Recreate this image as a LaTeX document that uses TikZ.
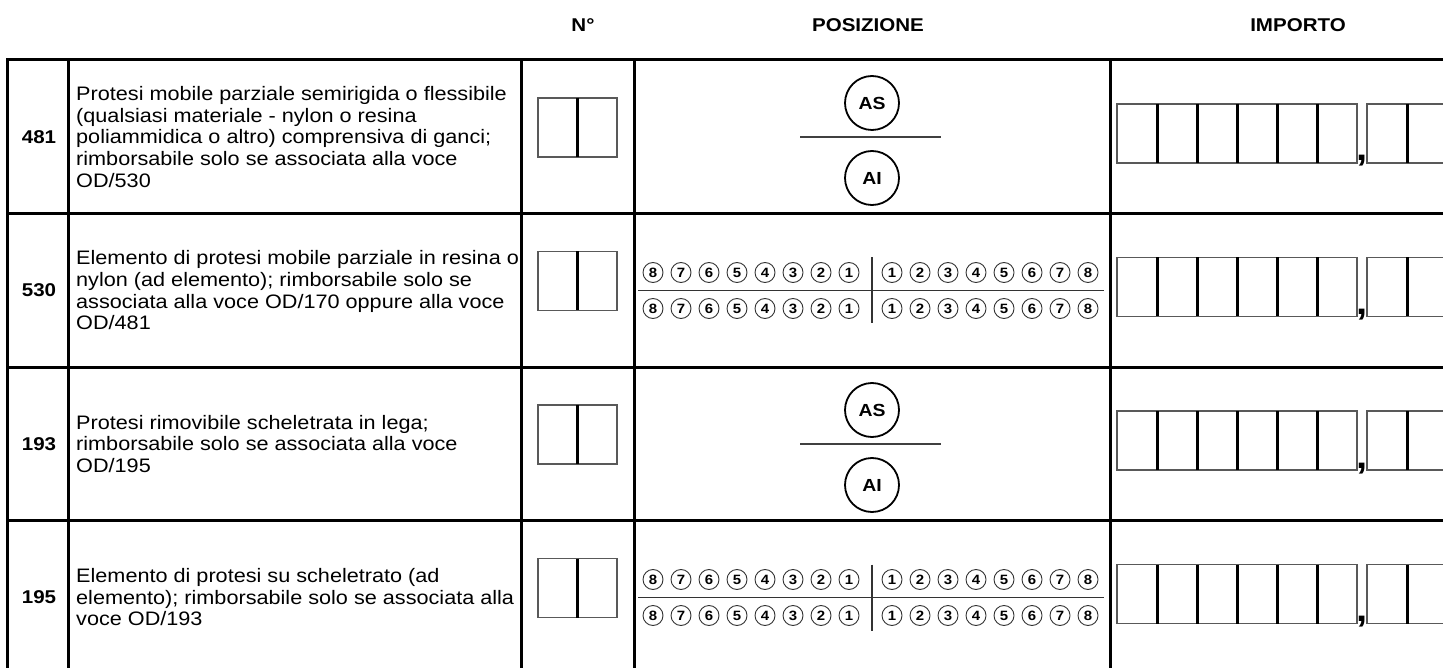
\documentclass[tikz,border=0pt]{standalone}
\usepackage{fontspec}
\setmainfont{Liberation Sans}[FakeStretch=1.11]

\tikzset{
  grid/.style={line width=3pt, line cap=rect},
  cellbox/.style={draw=black!65, line width=1.8pt},
  cellbar/.style={line width=3pt},
  head/.style={font=\fontsize{18.5}{22}\selectfont\bfseries},
  desc/.style={anchor=west, align=left, inner sep=0pt, font=\fontsize{19.5}{21.7}\selectfont},
  arch/.style={circle, draw, line width=1.8pt, minimum size=54pt, inner sep=0pt, font=\fontsize{17.5}{17.5}\selectfont\bfseries},
  tooth/.style={circle, draw=black!80, line width=0.9pt, minimum size=20pt, inner sep=0pt, font=\fontsize{13.5}{13.5}\selectfont\bfseries},
}

\begin{document}
\begin{tikzpicture}[x=1pt, y=-1pt]
    \useasboundingbox (0,0) rectangle (1443,668);
    % column heads
    \node[head] (hnum) at (583,25) {N°};
    \node[head] (hpos) at (868,25) {POSIZIONE};
    \node[head] (himp) at (1298,25) {IMPORTO};
    % table rules
    \draw[grid]
        (7,60)--(1443,60) (7,213.5)--(1443,213.5)
        (7,367)--(1443,367) (7,520.5)--(1443,520.5);
    \draw[grid]
        (7,60)--(7,668) (68,60)--(68,668) (521,60)--(521,668)
        (634,60)--(634,668) (1110,60)--(1110,668);
    % code, N° box and amount boxes of each row
    \foreach \r/\ty/\code in {1/60/481,2/213.5/530,3/367/193,4/520.5/195}{
        \node[head] (code-\r) at (39,\ty+77) {\code};
        \draw[cellbox] (538,\ty+38) rectangle (617,\ty+97);
        \draw[cellbar] (577.5,\ty+38)--(577.5,\ty+97);
        \draw[cellbox] (1117,\ty+44) rectangle (1357,\ty+103)
            (1447,\ty+44)--(1367,\ty+44)--(1367,\ty+103)--(1447,\ty+103);
        \foreach \k in {1,...,5}
            \draw[cellbar] (1117+40*\k,\ty+44)--(1117+40*\k,\ty+103);
        \draw[cellbar] (1407,\ty+44)--(1407,\ty+103);
        \node[font=\fontsize{36}{36}\selectfont\bfseries, anchor=base, inner sep=0pt]
            (comma-\r) at (1362,\ty+101) {,};
    }
    % descriptions
    \node[desc] (desc-1) at (76,136.75) {Protesi mobile parziale semirigida o flessibile\\
        (qualsiasi materiale - nylon o resina\\
        poliammidica o altro) comprensiva di ganci;\\
        rimborsabile solo se associata alla voce\\
        OD/530};
    \node[desc] (desc-2) at (76,290.25) {Elemento di protesi mobile parziale in resina o\\
        nylon (ad elemento); rimborsabile solo se\\
        associata alla voce OD/170 oppure alla voce\\
        OD/481};
    \node[desc] (desc-3) at (76,443.75) {Protesi rimovibile scheletrata in lega;\\
        rimborsabile solo se associata alla voce\\
        OD/195};
    \node[desc] (desc-4) at (76,597.25) {Elemento di protesi su scheletrato (ad\\
        elemento); rimborsabile solo se associata alla\\
        voce OD/193};
    % arches
    \foreach \r/\ty in {1/60,3/367}{
        \node[arch] (as-\r) at (872,\ty+43) {AS};
        \node[arch] (ai-\r) at (872,\ty+118) {AI};
        \draw[line width=2pt, black!75] (800,\ty+77)--(941,\ty+77);
    }
    % teeth
    \foreach \r/\ty in {2/213.5,4/520.5}{
        \draw[line width=1.2pt, black!80]
            (638,\ty+77)--(1104,\ty+77) (872,\ty+44)--(872,\ty+110);
        \foreach \i in {1,...,8}{
            \node[tooth] (ul-\r-\i) at (877-28*\i,\ty+59) {\i};
            \node[tooth] (ur-\r-\i) at (864+28*\i,\ty+59) {\i};
            \node[tooth] (ll-\r-\i) at (877-28*\i,\ty+95) {\i};
            \node[tooth] (lr-\r-\i) at (864+28*\i,\ty+95) {\i};
        }
    }
\end{tikzpicture}
\end{document}
